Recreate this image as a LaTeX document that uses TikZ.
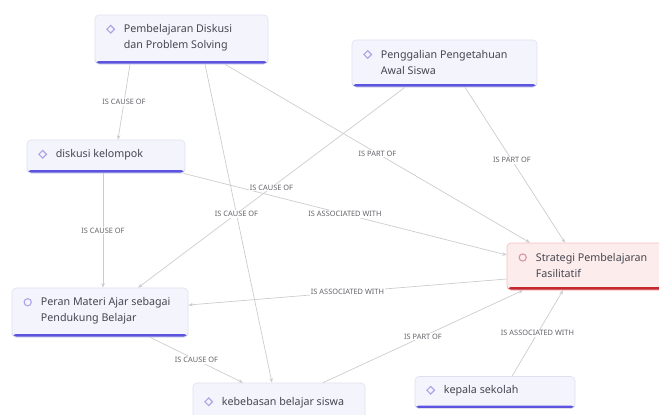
\documentclass[tikz,border=0pt]{standalone}
\usepackage{fontspec}
\setmainfont{Noto Sans}
\usetikzlibrary{arrows.meta}
\definecolor{boxfill}{RGB}{244,245,252}
\definecolor{boxline}{RGB}{222,224,238}
\definecolor{barblue}{RGB}{92,84,222}
\definecolor{iconlav}{RGB}{170,166,232}
\definecolor{redfill}{RGB}{253,236,236}
\definecolor{redline}{RGB}{244,192,192}
\definecolor{barred}{RGB}{196,40,46}
\definecolor{iconred}{RGB}{214,150,160}
\definecolor{wiregray}{RGB}{204,204,208}
\definecolor{inktext}{RGB}{70,70,80}
\definecolor{tagtext}{RGB}{100,100,106}
\def\barfill#1{\fill[#1] (path picture bounding box.south west) rectangle ([yshift=3pt]path picture bounding box.south east);}
\def\diaicon(#1)[#2]{\draw[#2, line width=1.1pt, shift={(#1)}] (-3.8pt,0pt) -- (0pt,3.8pt) -- (3.8pt,0pt) -- (0pt,-3.8pt) -- cycle;}
\def\ciricon(#1)[#2]{\draw[#2, line width=1.1pt] (#1) circle (3.6pt);}
\tikzset{
	topic/.style 2 args={draw=boxline, fill=boxfill, line width=0.6pt, rounded corners=4pt, minimum width=#1, minimum height=#2, inner sep=0pt},
	bluebar/.style={path picture={\barfill{barblue}}},
	redbar/.style={draw=redline, fill=redfill, path picture={\barfill{barred}}},
	topictext/.style={anchor=west, align=left, text=inktext, inner sep=0pt, font=\fontsize{10.7}{16}\selectfont},
	wire/.style={draw=wiregray, line width=0.7pt, -{Stealth[length=4.5pt,width=3.5pt]}},
	tag/.style={fill=white, inner sep=1pt, text=tagtext, font=\fontsize{7.4}{8}\selectfont},
}

\begin{document}
\begin{tikzpicture}[x=1pt,y=-1pt]
	\useasboundingbox (0,0) rectangle (659,415);
	%%%%% START %%%%%
	\node[topic={173pt}{49pt}, bluebar] (p1) at (181.5,39.5) {};
	\node[topictext] (p1t) at ([xshift=29pt,yshift=1.5pt]p1.west) {Pembelajaran Diskusi\\dan Problem Solving};
	\diaicon([xshift=-13pt,yshift=-4.8pt]p1t.north west)[iconlav]
	
	\node[topic={185pt}{47pt}, bluebar] (p2) at (444.5,63.5) {};
	\node[topictext] (p2t) at ([xshift=29pt,yshift=1.5pt]p2.west) {Penggalian Pengetahuan\\Awal Siswa};
	\diaicon([xshift=-13pt,yshift=-4.8pt]p2t.north west)[iconlav]
	
	\node[topic={158pt}{33pt}, bluebar] (dk) at (106,156.5) {};
	\node[topictext] (dkt) at ([xshift=29pt,yshift=1.5pt]dk.west) {diskusi kelompok};
	\diaicon([xshift=-13pt,yshift=-4.8pt]dkt.north west)[iconlav]
	
	\node[topic={157pt}{47pt}, redbar] (sp) at (585.5,266.5) {};
	\node[topictext] (spt) at ([xshift=29pt,yshift=1.5pt]sp.west) {Strategi Pembelajaran\\Fasilitatif};
	\ciricon([xshift=-13pt,yshift=-4.8pt]spt.north west)[iconred]
	
	\node[topic={176pt}{49pt}, bluebar] (pm) at (100,312.5) {};
	\node[topictext] (pmt) at ([xshift=29pt,yshift=1.5pt]pm.west) {Peran Materi Ajar sebagai\\Pendukung Belajar};
	\ciricon([xshift=-13pt,yshift=-4.8pt]pmt.north west)[iconlav]
	
	\node[topic={172pt}{36pt}, bluebar] (kb) at (279,401) {};
	\node[topictext] (kbt) at ([xshift=29pt,yshift=-1.5pt]kb.west) {kebebasan belajar siswa};
	\diaicon([xshift=-13pt,yshift=-4.8pt]kbt.north west)[iconlav]
	
	\node[topic={160pt}{32pt}, bluebar] (ks) at (495,392.5) {};
	\node[topictext] (kst) at ([xshift=29pt,yshift=1.5pt]ks.west) {kepala sekolah};
	\diaicon([xshift=-13pt,yshift=-4.8pt]kst.north west)[iconlav]
	
	% connectors
	\draw[wire] ([xshift=-51.5pt]p1.south) -- node[tag] {IS CAUSE OF} ([xshift=12pt]dk.north);
	\draw[wire] ([xshift=43.5pt]p1.south) -- node[tag] {IS PART OF} ([xshift=-55.5pt]sp.north);
	\draw[wire] ([xshift=-2pt]dk.south east) -- node[tag] {IS ASSOCIATED WITH} ([yshift=11.5pt]sp.west);
	\draw[wire] ([xshift=-39.5pt]p2.south) -- node[tag] {IS CAUSE OF} ([xshift=38pt]pm.north);
	\draw[wire] ([xshift=23.5pt]p1.south) -- node[tag, pos=0.47] {IS CAUSE OF} ([xshift=-7pt]kb.north);
	\draw[wire] ([xshift=20.5pt]p2.south) -- node[tag, pos=0.47] {IS PART OF} ([xshift=-20.5pt]sp.north);
	\draw[wire] ([xshift=-3pt]dk.south) -- node[tag] {IS CAUSE OF} ([xshift=3pt]pm.north);
	\draw[wire] ([yshift=-12.5pt]sp.west) -- node[tag] {IS ASSOCIATED WITH} ([yshift=7.5pt]pm.east);
	\draw[wire] ([xshift=50pt]pm.south) -- node[tag] {IS CAUSE OF} ([xshift=-36pt]kb.north);
	\draw[wire] ([xshift=44pt]kb.north) -- node[tag] {IS PART OF} ([xshift=-62.5pt]sp.south);
	\draw[wire] ([xshift=17pt]ks.north) -- node[tag] {IS ASSOCIATED WITH} ([xshift=-22.5pt]sp.south);
	%%%%% END %%%%%
\end{tikzpicture}
\end{document}
